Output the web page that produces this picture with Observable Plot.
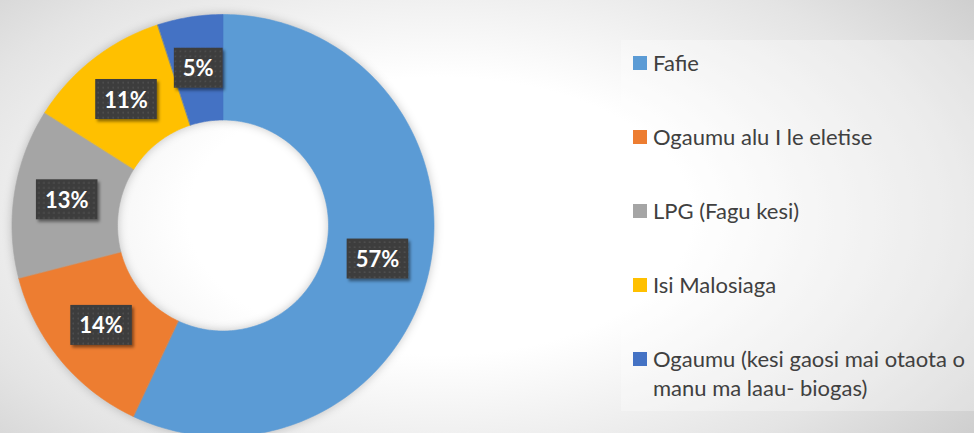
<!DOCTYPE html>
<html><head><meta charset="utf-8">
<script src="https://cdn.jsdelivr.net/npm/d3@7"></script>
<script src="https://cdn.jsdelivr.net/npm/@observablehq/plot@0.6"></script>
<style>
html,body{margin:0;padding:0;background:#fff;}
#wrap{position:relative;width:974px;height:433px;overflow:hidden;
  background:radial-gradient(ellipse 600px 330px at 440px 216px,#ffffff 0%,#ffffff 42%,#e4e4e4 85%,#cbcbcb 115%);
  font-family:Lato,"Open Sans",sans-serif;}
#wrap svg{position:absolute;left:0;top:0;}
#legend{position:absolute;left:621px;top:40px;width:353px;height:371px;background:rgba(255,255,255,0.3);}
.item{position:absolute;left:12px;width:360px;font-size:22px;line-height:29px;color:#404040;}
.sw{position:absolute;left:0;width:14px;height:14px;}
.lt{position:absolute;left:20px;width:326px;}
</style></head><body><div id="wrap"><div id="legend"></div></div>
<script>
const categories = ["Fafie", "Ogaumu alu I le eletise", "LPG (Fagu kesi)", "Isi Malosiaga", "Ogaumu (kesi gaosi mai otaota o manu ma laau- biogas)"];
const values = [57, 14, 13, 11, 5];
const colors = ["#5B9BD5", "#ED7D31", "#A5A5A5", "#FFC000", "#4472C4"];

const outerR = 1, innerR = 0.5;
const total = d3.sum(values);
let acc = 0;
const slices = categories.map((c, i) => {
  const a0 = acc / total * 2 * Math.PI; acc += values[i];
  const a1 = acc / total * 2 * Math.PI;
  return {c, v: values[i], a0, a1};
});
const ringPts = slices.flatMap(s => {
  const n = Math.max(2, Math.ceil((s.a1 - s.a0) / (Math.PI / 180)));
  const pts = [];
  for (let k = 0; k <= n; k++) { const a = s.a0 + (s.a1 - s.a0) * k / n; pts.push({c: s.c, x: Math.sin(a) * outerR, y: Math.cos(a) * outerR}); }
  for (let k = n; k >= 0; k--) { const a = s.a0 + (s.a1 - s.a0) * k / n; pts.push({c: s.c, x: Math.sin(a) * innerR, y: Math.cos(a) * innerR}); }
  return pts;
});
const labelPts = slices.map(s => {
  const a = (s.a0 + s.a1) / 2, r = (outerR + innerR) / 2;
  return {c: s.c, v: s.v, x: Math.sin(a) * r, y: Math.cos(a) * r};
});

const chart = Plot.plot({
  width: 974, height: 433, margin: 0,
  x: {domain: [-1, 1], range: [11.5, 433.5], axis: null},
  y: {domain: [-1, 1], range: [436, 14], axis: null},
  color: {domain: categories, range: colors},
  style: {background: "transparent", overflow: "visible"},
  marks: [
    Plot.line(ringPts, {x: "x", y: "y", z: "c", fill: "c", stroke: "c", strokeWidth: 0.6, curve: "linear-closed"}),
    Plot.text(labelPts, {x: "x", y: "y", text: d => d.v + "%", fill: "white", fontWeight: "bold", fontSize: 22, fontFamily: "Lato, sans-serif"})
  ]
});
const wrap = document.getElementById("wrap");
wrap.insertBefore(chart, wrap.firstChild);

const ns = "http://www.w3.org/2000/svg";
const defs = document.createElementNS(ns, "defs");
defs.innerHTML = `
<pattern id="dots" patternUnits="userSpaceOnUse" width="5" height="5">
  <rect width="5" height="5" fill="#3d3d3d"/>
  <rect x="1.5" y="1.5" width="1.4" height="1.4" fill="#555555"/>
</pattern>
<filter id="boxShadow" x="-30%" y="-30%" width="160%" height="160%">
  <feDropShadow dx="2" dy="2.5" stdDeviation="1.8" flood-color="#000" flood-opacity="0.45"/>
</filter>`;
chart.insertBefore(defs, chart.firstChild);
const ringG = chart.querySelector('g[aria-label="line"]');
if (ringG) ringG.style.filter = "drop-shadow(0 0 5px rgba(0,0,0,0.22))";
chart.querySelectorAll('g[aria-label="text"] text').forEach(t => {
  const bb = t.getBBox();
  const w = bb.width + 18, h = 40;
  const cx = bb.x + bb.width / 2, cy = bb.y + bb.height / 2;
  const r = document.createElementNS(ns, "rect");
  r.setAttribute("x", cx - w / 2); r.setAttribute("y", cy - h / 2);
  r.setAttribute("width", w); r.setAttribute("height", h);
  r.setAttribute("fill", "url(#dots)");
  r.setAttribute("filter", "url(#boxShadow)");
  if (t.getAttribute("transform")) r.setAttribute("transform", t.getAttribute("transform"));
  t.parentNode.insertBefore(r, t);
});

const legend = document.getElementById("legend");
categories.forEach((c, i) => {
  const it = document.createElement("div");
  it.className = "item";
  it.style.top = (7.5 + 74 * i) + "px";
  const sw = document.createElement("div");
  sw.className = "sw"; sw.style.background = colors[i]; sw.style.top = "8px";
  const lt = document.createElement("div");
  lt.className = "lt"; lt.textContent = c;
  it.appendChild(sw); it.appendChild(lt);
  legend.appendChild(it);
});
</script>
</body></html>
